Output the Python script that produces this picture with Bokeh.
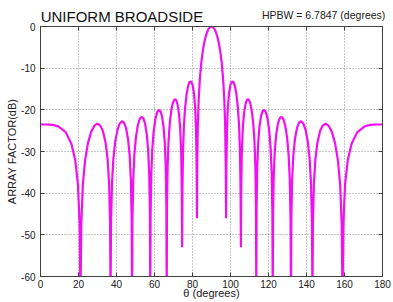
from bokeh.plotting import figure
from bokeh.models import Range1d, FixedTicker, LinearAxis
from bokeh.embed import file_html
from bokeh.resources import INLINE

# ---- data (angle in degrees, array factor in dB) ----
theta_left = [
    0.00, 2.96, 4.19, 6.62, 9.37, 13.26, 16.26, 18.32, 19.72, 20.60, 21.04,
    21.46, 22.28, 23.46, 24.95, 26.68, 28.36, 29.93, 31.42, 32.86, 34.24, 35.31, 36.10, 36.62, 36.87,
    37.12, 37.63, 38.37, 39.34, 40.54, 41.69, 42.83, 43.95, 45.03, 46.10, 46.95, 47.57, 47.98, 48.19,
    48.39, 48.80, 49.41, 50.21, 51.20, 52.17, 53.13, 54.08, 55.01, 55.94, 56.68, 57.23, 57.59, 57.77,
    57.95, 58.31, 58.85, 59.56, 60.44, 61.31, 62.18, 63.04, 63.90, 64.74, 65.42, 65.92, 66.25, 66.42,
    66.59, 66.92, 67.42, 68.08, 68.90, 69.72, 70.53, 71.34, 72.14, 72.94, 73.58, 74.06, 74.37, 74.53,
    74.69, 75.01, 75.48, 76.11, 76.90, 77.68, 78.46, 79.24, 80.02, 80.79, 81.41, 81.87, 82.18, 82.34,
    82.49, 82.80, 83.26, 83.88, 84.64, 85.41, 86.18, 86.94, 87.71, 88.47, 89.24, 90.00,
]
db_left = [
    -23.52, -23.52, -23.54, -23.63, -23.96, -25.35, -28.13, -32.17, -38.03, -47.52, -65.0,
    -47.51, -38.01, -32.13, -28.05, -25.24, -23.81, -23.33, -23.73, -25.08, -27.82, -31.83, -37.67, -47.14, -65.0,
    -47.11, -37.60, -31.69, -27.58, -24.73, -23.26, -22.74, -23.09, -24.41, -27.09, -31.08, -36.89, -46.33, -65.0,
    -46.29, -36.76, -30.82, -26.67, -23.77, -22.25, -21.68, -21.99, -23.24, -25.88, -29.81, -35.59, -45.02, -65.0,
    -44.95, -35.39, -29.42, -25.22, -22.26, -20.67, -20.03, -20.27, -21.45, -24.01, -27.88, -33.60, -42.99, -65.0,
    -42.90, -33.30, -27.28, -23.00, -19.94, -18.25, -17.50, -17.62, -18.68, -21.10, -24.86, -30.50, -39.83, -53.0,
    -39.67, -30.01, -23.88, -19.46, -16.21, -14.30, -13.32, -13.18, -13.95, -16.06, -19.53, -24.93, -34.09, -46.0,
    -33.75, -23.89, -17.46, -12.58, -8.65, -5.92, -3.91, -2.41, -1.32, -0.58, -0.14, 0.00,
]
theta_right = [
    90.76, 91.53, 92.29, 93.06, 93.82, 94.59, 95.36, 96.12, 96.74, 97.20, 97.51, 97.66,
    97.82, 98.13, 98.59, 99.21, 99.98, 100.76, 101.54, 102.32, 103.10, 103.89, 104.52, 104.99, 105.31, 105.47,
    105.63, 105.94, 106.42, 107.06, 107.86, 108.66, 109.47, 110.28, 111.10, 111.92, 112.58, 113.08, 113.41, 113.58,
    113.75, 114.08, 114.58, 115.26, 116.10, 116.96, 117.82, 118.69, 119.56, 120.44, 121.15, 121.69, 122.05, 122.23,
    122.41, 122.77, 123.32, 124.06, 124.99, 125.92, 126.87, 127.83, 128.80, 129.79, 130.59, 131.20, 131.61, 131.81,
    132.02, 132.43, 133.05, 133.90, 134.97, 136.05, 137.17, 138.31, 139.46, 140.66, 141.63, 142.37, 142.88, 143.13,
    143.38, 143.90, 144.69, 145.76, 147.14, 148.58, 150.07, 151.64, 153.32, 155.05, 156.54, 157.72, 158.54, 158.96,
    159.40, 160.28, 161.68, 163.74, 166.74, 170.63, 173.38, 175.81, 177.04, 180.00,
]
db_right = [
    -0.14, -0.58, -1.32, -2.41, -3.91, -5.92, -8.65, -12.58, -17.46, -23.89, -33.75, -46.0,
    -34.09, -24.93, -19.53, -16.06, -13.95, -13.18, -13.32, -14.30, -16.21, -19.46, -23.88, -30.01, -39.67, -53.0,
    -39.83, -30.50, -24.86, -21.10, -18.68, -17.62, -17.50, -18.25, -19.94, -23.00, -27.28, -33.30, -42.90, -65.0,
    -42.99, -33.60, -27.88, -24.01, -21.45, -20.27, -20.03, -20.67, -22.26, -25.22, -29.42, -35.39, -44.95, -65.0,
    -45.02, -35.59, -29.81, -25.88, -23.24, -21.99, -21.68, -22.25, -23.77, -26.67, -30.82, -36.76, -46.29, -65.0,
    -46.33, -36.89, -31.08, -27.09, -24.41, -23.09, -22.74, -23.26, -24.73, -27.58, -31.69, -37.60, -47.11, -65.0,
    -47.14, -37.67, -31.83, -27.82, -25.08, -23.73, -23.33, -23.81, -25.24, -28.05, -32.13, -38.01, -47.51, -65.0,
    -47.52, -38.03, -32.17, -28.13, -25.35, -23.96, -23.63, -23.54, -23.52, -23.52,
]

x_ticks = [0, 20, 40, 60, 80, 100, 120, 140, 160, 180]
y_ticks = [-60, -50, -40, -30, -20, -10, 0]
y_tick_labels = ["-60", "-50", "-40", "-30", "-20", "-10", "0"]
x_tick_labels = ["0", "20", "40", "60", "80", "100", "120", "140", "160", "180"]

title_text = "UNIFORM BROADSIDE"
hpbw_text = "HPBW = 6.7847 (degrees)"
hpbw_at = 149          # x position (degrees) of the centre of the HPBW note
x_label = "\u03b8 (degrees)"
y_label = "ARRAY FACTOR(dB)"

theta = theta_left + theta_right
af_db = db_left + db_right

FONT = "Liberation Sans"
AXIS_COLOR = "#404040"
TEXT_COLOR = "#202020"

p = figure(
    width=393, height=302,
    output_backend="svg", toolbar_location=None,
    x_range=Range1d(0, 180), y_range=Range1d(-60, 0),
    min_border_left=40, min_border_right=11,
    min_border_top=26, min_border_bottom=26,
    background_fill_color="white", border_fill_color="white",
)
p.outline_line_color = AXIS_COLOR
p.outline_line_width = 1

p.line(theta, af_db, line_color="#f010f0", line_width=2.2)

# main axes
for ax, ticks, labels in ((p.xaxis[0], x_ticks, x_tick_labels), (p.yaxis[0], y_ticks, y_tick_labels)):
    ax.ticker = FixedTicker(ticks=ticks)
    ax.major_label_overrides = {t: l for t, l in zip(ticks, labels)}
    ax.major_tick_in = 4
    ax.major_tick_out = 0
    ax.minor_tick_line_color = None
    ax.axis_line_color = AXIS_COLOR
    ax.major_tick_line_color = AXIS_COLOR
    ax.major_label_text_font = FONT
    ax.major_label_text_font_size = "10px"
    ax.major_label_text_color = TEXT_COLOR
    ax.major_label_standoff = 5
    ax.axis_label_text_font = FONT
    ax.axis_label_text_font_size = "11px"
    ax.axis_label_text_font_style = "normal"
    ax.axis_label_text_color = TEXT_COLOR

p.yaxis[0].axis_label = y_label
p.yaxis[0].axis_label_standoff = 0

p.xaxis[0].axis_label = x_label
p.xaxis[0].major_label_standoff = 3
p.xaxis[0].axis_label_standoff = -4

# top: box ticks, HPBW note (tick label) and chart title (axis label,
# padded with no-break spaces so that it starts at the left of the frame)
top = LinearAxis(
    ticker=FixedTicker(ticks=[hpbw_at], minor_ticks=x_ticks),
    major_label_overrides={hpbw_at: hpbw_text},
    axis_label=title_text + "\u00a0" * 43,
)
top.axis_line_color = AXIS_COLOR
top.major_tick_line_color = None
top.major_tick_in = 0
top.major_tick_out = 0
top.minor_tick_line_color = AXIS_COLOR
top.minor_tick_in = 4
top.minor_tick_out = 0
top.major_label_standoff = 6
top.major_label_text_font = FONT
top.major_label_text_font_size = "10.5px"
top.major_label_text_color = TEXT_COLOR
top.axis_label_text_font = FONT
top.axis_label_text_font_size = "15px"
top.axis_label_text_font_style = "normal"
top.axis_label_text_color = "#101010"
top.axis_label_standoff = -19
p.add_layout(top, "above")

# right: box ticks only
right = LinearAxis(ticker=FixedTicker(ticks=y_ticks),
                   major_label_overrides={t: "" for t in y_ticks})
right.major_tick_in = 4
right.major_tick_out = 0
right.minor_tick_line_color = None
right.axis_line_color = AXIS_COLOR
right.major_tick_line_color = AXIS_COLOR
right.major_label_standoff = 0
right.major_label_text_font_size = "1px"
p.add_layout(right, "right")

# grid
p.xgrid.ticker = FixedTicker(ticks=x_ticks)
p.ygrid.ticker = FixedTicker(ticks=y_ticks)
for g in (p.xgrid[0], p.ygrid[0]):
    g.grid_line_color = "#8a8a8a"
    g.grid_line_dash = "1 2"
    g.grid_line_width = 1

open("out.html", "w").write(file_html(p, INLINE))
